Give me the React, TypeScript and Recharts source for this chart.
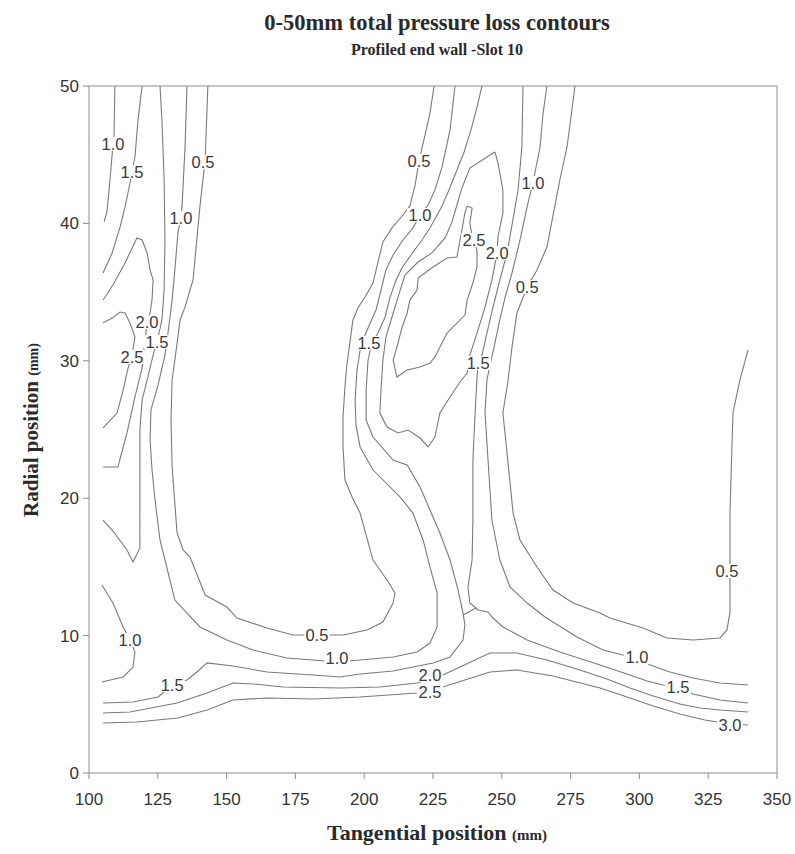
import React from 'react';
import { ComposedChart, Line, Scatter, XAxis, YAxis, ReferenceLine } from 'recharts';

const FONT = '"Liberation Sans", Arial, sans-serif';
const SERIF = '"Liberation Serif", "Times New Roman", serif';

const xTicks = [100, 125, 150, 175, 200, 225, 250, 275, 300, 325, 350];
const yTicks = [0, 10, 20, 30, 40, 50];

// contour polylines [tangential mm, radial mm]
const leftOuter10 = [[109.4,50],[109.1,46.43],[108.4,44.98],[107.3,42.43],[106.5,40.83],[105.5,40.11]];
const leftOuter15 = [[119.3,50],[117.8,47.52],[116.7,44.83],[115.6,43.74],[114.9,42.94],[113.1,41.2],[111.3,39.74],[108.4,37.85],[105.1,36.39]];
const leftWedge20 = [[105.1,34.42],[108.7,35.52],[113.1,37.12],[117.4,38.94],[119.3,38.79],[121.1,37.85],[122.2,36.61],[123.3,35.88],[122.9,34.42],[122.2,33.48],[121.1,32.82],[119.3,29.48],[116.7,27.37],[113.8,24.75],[110.5,22.27],[105.1,22.27]];
const leftWedge25 = [[105.1,32.75],[108.4,33.11],[111.3,33.55],[113.1,33.48],[114.9,32.75],[116.7,31.73],[115.6,30.28],[114.2,29.48],[112.4,27.87],[110.2,26.2],[105.1,25.11]];
const leftInner15 = [[125.8,50],[126.5,47.52],[127.3,43.16],[127.6,38.79],[127.3,35.15],[126.5,32.97],[124.7,31.37],[123.3,30.42],[121.1,28.6],[119.3,27.15],[118.5,24.96],[118.5,21.32],[118.5,16.38],[116.0,15.36],[113.8,16.23],[108.7,17.61],[105.1,18.41]];
const band10 = [[135.6,50],[134.9,45.56],[133.8,41.2],[133.4,40.4],[132.3,39.3],[131.2,36.61],[130.2,34.42],[128.7,32.02],[127.6,30.42],[125.1,28.24],[122.5,26.42],[122.2,24.24],[122.9,22.05],[124.0,19.87],[125.8,16.96],[129.4,14.05],[131.2,12.59],[140.3,10.63],[150.1,9.68],[159.6,8.95],[171.9,8.37],[181.4,8.22],[190.1,8.08],[198.5,8.22],[210.5,8.44],[219.2,8.81],[223.9,9.46],[226.5,10.63],[226.5,13.1],[223.9,14.99],[221.4,16.96],[217.7,18.92],[213.0,20.09],[203.2,22.05],[198.5,23.73],[197.0,25.33],[196.7,27.15],[197.4,29.33],[198.8,31.15],[201.4,32.39],[204.3,33.7],[206.1,35.15],[207.9,36.61],[210.5,37.7],[214.1,38.79],[217.7,39.67],[220.3,40.61],[223.2,41.34],[225.7,42.43],[228.3,44.11],[231.2,46.8],[233.0,50]];
const band05 = [[143.2,50],[142.2,44.61],[140.3,41.2],[137.8,35.88],[134.9,33.91],[133.1,32.97],[131.2,30.06],[130.2,28.6],[129.8,25.69],[130.2,22.27],[132.0,17.47],[134.2,16.23],[136.7,15.72],[142.2,12.95],[150.1,12.08],[153.8,11.28],[164.7,10.55],[174.1,10.04],[182.8,10.04],[192.3,10.04],[201.0,10.41],[206.8,10.99],[210.5,12.37],[211.2,13.1],[208.3,14.05],[203.2,15.5],[198.5,18.92],[195.6,20.09],[193.0,21.32],[192.3,23.73],[192.3,25.91],[193.0,28.09],[193.7,29.69],[194.8,31.3],[195.9,32.97],[197.7,33.84],[200.3,34.64],[203.2,35.66],[205.0,37.19],[206.8,38.65],[210.1,39.67],[214.1,40.61],[216.6,41.27],[218.5,42.79],[219.9,44.54],[222.1,46.43],[223.9,48.03],[225.4,50]];
const band15 = [[242.8,50],[241.0,48.47],[238.8,46.8],[236.3,45.2],[233.7,43.89],[230.8,42.43],[228.3,41.27],[226.1,40.47],[223.9,39.67],[221.0,38.79],[217.0,37.7],[213.7,36.75],[211.6,35.88],[209.4,34.64],[207.6,33.19],[205.0,32.02],[202.8,31.3],[201.4,30.06],[200.7,27.87],[200.7,25.69],[203.2,24.45],[210.5,22.78],[215.6,22.42],[220.3,20.82],[223.9,19.14],[227.5,17.47],[231.2,15.5],[234.1,13.32],[235.9,11.65],[236.6,10.77],[235.9,9.68],[231.2,8.44],[225.0,8.01],[210.5,7.42],[198.5,7.21],[191.2,6.99],[181.4,7.13],[164.7,7.35],[152.3,7.79],[142.9,8.01],[139.2,7.35],[135.6,6.77],[130.2,6.4],[125.1,5.53],[116.0,5.17],[105.1,5.09]];
const saddle15 = [[235.9,11.5],[240.6,12.01]];
const right15 = [[257.7,50],[257.3,45.56],[255.9,42.43],[253.7,39.88],[251.9,37.85],[249.3,35.88],[246.8,33.91],[244.6,32.02],[242.8,30.42],[241.4,29.84],[241.0,28.82],[240.3,26.2],[239.5,22.78],[239.5,18.41],[239.2,15.5],[237.7,13.54],[238.4,12.37],[240.6,12.01],[241.4,11.86],[245.0,11.72],[246.8,11.28],[250.4,10.63],[259.2,9.68],[271.1,8.81],[285.7,7.86],[295.5,7.21],[302.8,6.7],[308.6,6.4],[314.0,6.26],[319.5,5.75],[329.3,5.31],[339.5,5.09]];
const core20 = [[247.5,45.2],[248.6,44.4],[250.4,42.43],[250.4,40.76],[248.6,39.01],[248.3,37.85],[246.4,35.88],[243.9,33.91],[241.0,32.02],[238.4,30.42],[237.4,29.11],[234.8,28.46],[231.2,27.37],[227.5,26.2],[225.7,24.45],[223.2,23.73],[220.3,24.38],[215.9,24.96],[212.3,24.75],[208.3,25.18],[205.7,26.2],[206.1,27.87],[206.8,30.06],[207.9,31.73],[210.1,33.19],[212.3,34.64],[214.8,36.24],[219.6,37.19],[224.6,37.85],[229.4,38.94],[231.9,40.11],[233.7,41.34],[235.5,42.57],[238.4,44.03],[244.6,44.83],[247.5,45.2]];
const core25 = [[237.4,41.27],[239.2,41.12],[238.4,40.03],[239.5,38.79],[241.0,38.06],[241.0,36.83],[239.5,35.66],[237.4,34.42],[236.6,33.33],[233.7,32.75],[230.1,32.02],[225.7,30.28],[223.9,29.84],[220.3,29.55],[215.6,29.33],[211.9,28.82],[210.5,30.06],[211.9,31.0],[213.7,32.39],[215.6,33.48],[216.6,34.42],[219.2,35.15],[219.6,36.03],[225.0,36.83],[230.1,37.48],[233.7,37.55],[235.5,39.52],[236.6,40.76],[237.4,41.27]];
const right10 = [[266.4,50],[265.0,48.03],[263.9,45.56],[261.3,42.94],[259.5,41.48],[256.6,38.79],[253.7,36.39],[251.2,34.64],[249.0,32.75],[247.2,31.0],[245.7,29.69],[244.6,28.6],[243.9,26.2],[245.0,22.78],[246.4,18.41],[249.3,15.5],[253.0,13.54],[259.2,12.37],[265.7,11.35],[277.3,9.9],[286.8,8.95],[294.0,8.59],[299.1,8.44],[303.9,7.86],[311.1,7.35],[319.5,6.91],[329.3,6.55],[339.5,6.4]];
const right05 = [[276.6,50],[273.7,45.56],[271.1,43.16],[266.4,38.28],[262.8,36.61],[259.2,35.37],[255.5,33.48],[253.7,31.0],[252.3,28.6],[250.4,26.2],[251.9,23.29],[254.1,18.92],[256.6,16.96],[262.8,14.99],[268.6,13.32],[275.9,12.37],[285.7,11.65],[289.3,11.28],[301.3,10.55],[310.0,9.83],[319.5,9.68],[329.3,9.83],[331.8,10.41],[332.9,11.65],[332.9,14.77],[332.9,18.92],[334.0,26.2],[336.5,28.6],[339.5,30.79]];
const floor20 = [[105.1,4.37],[114.9,4.44],[132.0,5.09],[142.9,5.82],[152.3,6.55],[159.6,6.48],[170.5,6.26],[191.2,6.19],[205.7,6.26],[219.2,6.55],[228.6,7.13],[234.8,7.71],[245.7,8.73],[255.5,8.73],[266.4,8.22],[278.4,7.5],[288.2,6.84],[296.6,6.19],[305.0,5.6],[314.7,5.02],[322.0,4.73],[329.3,4.59],[339.5,4.44]];
const floor25 = [[105.1,3.64],[117.4,3.71],[132.3,4.0],[142.9,4.59],[152.3,5.31],[164.7,5.46],[181.4,5.39],[198.5,5.53],[219.2,5.82],[228.6,6.26],[245.7,7.35],[255.5,7.5],[268.6,7.06],[285.7,6.19],[295.5,5.53],[305.0,4.88],[314.7,4.29],[323.8,3.86],[332.9,3.57],[339.5,3.49]];
const bump10 = [[104.7,13.68],[108.7,12.37],[112.4,10.63],[114.9,9.68],[116.7,8.81],[116.0,7.71],[112.4,6.99],[104.7,6.62]];

const contours = [leftOuter10, leftOuter15, leftWedge20, leftWedge25, leftInner15, band10, band05, band15, saddle15, right15, core20, core25, right10, right05, floor20, floor25, bump10];

// contour labels [x, y, text]
const contourLabels: [number, number, string][] = [
  [108.7, 45.78, '1.0'], [115.6, 43.74, '1.5'], [141.4, 44.47, '0.5'], [133.4, 40.4, '1.0'],
  [121.1, 32.82, '2.0'], [124.7, 31.37, '1.5'], [115.6, 30.28, '2.5'],
  [219.9, 44.54, '0.5'], [220.3, 40.61, '1.0'], [239.9, 38.79, '2.5'], [248.3, 37.85, '2.0'],
  [261.3, 42.94, '1.0'], [259.2, 35.37, '0.5'], [201.7, 31.3, '1.5'], [241.4, 29.84, '1.5'],
  [114.9, 9.68, '1.0'], [182.8, 10.04, '0.5'], [190.1, 8.37, '1.0'], [130.2, 6.4, '1.5'],
  [223.9, 5.9, '2.5'], [223.9, 7.13, '2.0'],
  [331.8, 14.7, '0.5'], [299.1, 8.44, '1.0'], [314.0, 6.26, '1.5'], [332.9, 3.49, '3.0'],
];

const toPts = (a: number[][]) => a.map(([x, y]) => ({ x, y }));
const labelData = contourLabels.map(([x, y, t]) => ({ x, y, t }));

const LabelMark = (props: any) => {
  const { cx, cy, payload } = props;
  if (cx == null || cy == null) return null;
  return (
    <g>
      <rect x={cx - 13} y={cy - 7} width={26} height={14} fill="#fff" />
      <text x={cx} y={cy} textAnchor="middle" dominantBaseline="central" fontSize={16.5} fontFamily={FONT} fill="#3a3a3a">
        {payload.t}
      </text>
    </g>
  );
};

const AX = '#8c8c8c';

export default function App() {
  return (
    <div style={{ position: 'absolute', left: 0, top: 0, width: 795, height: 854, background: '#fff' }}>
      <ComposedChart width={795} height={854} margin={{ top: 86, right: 18, bottom: 41, left: 29 }}>
        <XAxis
          type="number"
          dataKey="x"
          domain={[100, 350]}
          ticks={xTicks}
          interval={0}
          allowDataOverflow
          height={40}
          stroke={AX}
          tickSize={6}
          tickMargin={14}
          tick={{ fill: '#333', fontSize: 17, fontFamily: FONT }}
        />
        <YAxis
          type="number"
          dataKey="y"
          domain={[0, 50]}
          ticks={yTicks}
          interval={0}
          allowDataOverflow
          width={60}
          stroke={AX}
          tickSize={6}
          tickMargin={4}
          tick={{ fill: '#333', fontSize: 17, fontFamily: FONT }}
        />
        <ReferenceLine y={50} stroke={AX} />
        <ReferenceLine x={350} stroke={AX} />
        {contours.map((c, i) => (
          <Line
            key={i}
            data={toPts(c)}
            dataKey="y"
            type="linear"
            dot={false}
            activeDot={false}
            stroke="#7a7a7a"
            strokeWidth={1.1}
            isAnimationActive={false}
          />
        ))}
        <Scatter data={labelData} dataKey="y" shape={LabelMark} isAnimationActive={false} />
      </ComposedChart>
      <svg width={795} height={854} style={{ position: 'absolute', left: 0, top: 0, pointerEvents: 'none' }}>
        <text x={437} y={30} textAnchor="middle" fontFamily={SERIF} fontWeight="bold" fontSize={22.5} fill="#2a2a2a">
          0-50mm total pressure loss contours
        </text>
        <text x={437} y={55} textAnchor="middle" fontFamily={SERIF} fontWeight="bold" fontSize={16} fill="#2a2a2a">
          Profiled end wall -Slot 10
        </text>
        <text x={437} y={840} textAnchor="middle" fontFamily={SERIF} fontWeight="bold" fontSize={22} fill="#2a2a2a">
          Tangential position <tspan fontSize={15}>(mm)</tspan>
        </text>
        <text
          x={0}
          y={0}
          transform="translate(38 430) rotate(-90)"
          textAnchor="middle"
          fontFamily={SERIF}
          fontWeight="bold"
          fontSize={21}
          fill="#2a2a2a"
        >
          Radial position <tspan fontSize={14}>(mm)</tspan>
        </text>
      </svg>
    </div>
  );
}
